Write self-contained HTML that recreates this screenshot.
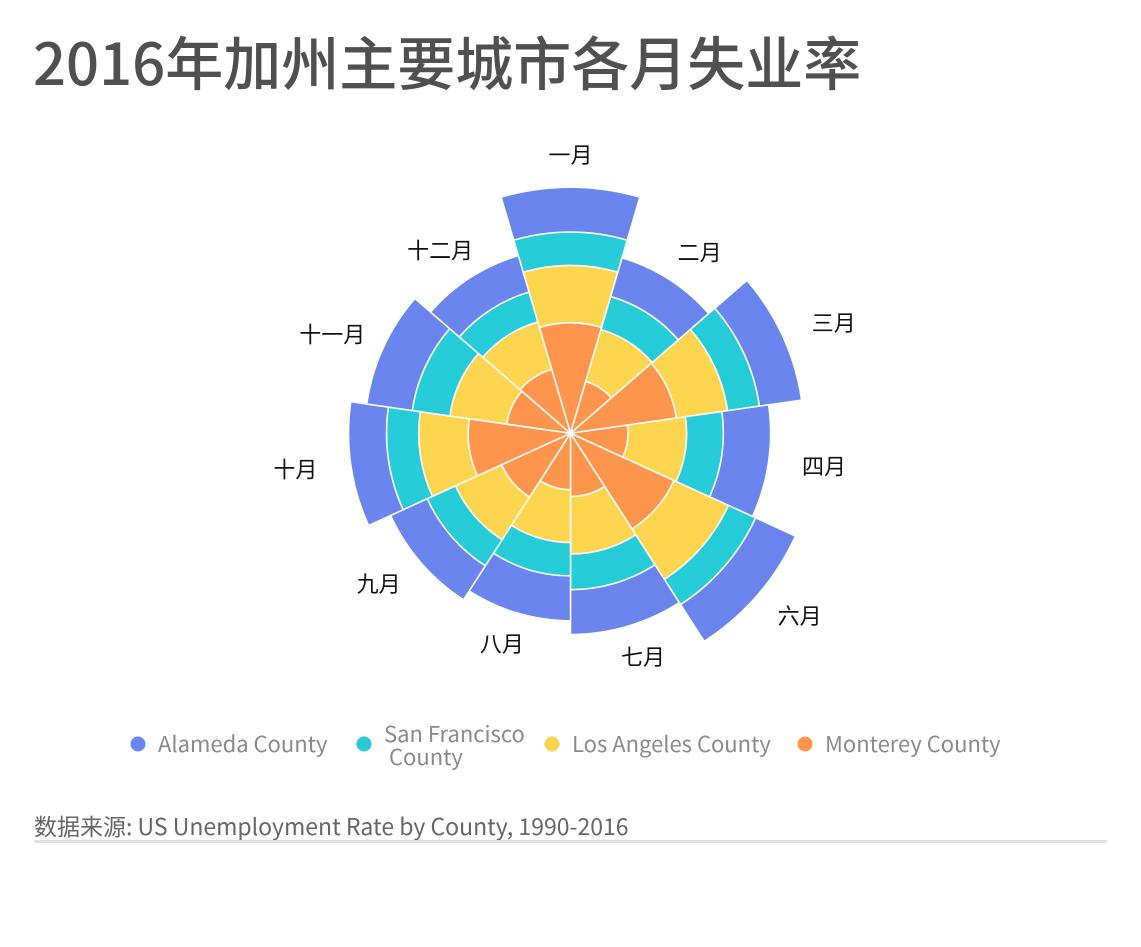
<!DOCTYPE html>
<html><head><meta charset="utf-8">
<style>
body{margin:0;background:#fff;width:1141px;height:947px;overflow:hidden;font-family:"Liberation Sans","Noto Sans CJK SC",sans-serif;}
#title{position:absolute;left:33px;top:20px;font-size:58px;font-weight:500;color:#505050;font-family:"Noto Sans CJK SC","Liberation Sans",sans-serif;white-space:nowrap;line-height:80px;}
#src{position:absolute;left:34px;top:808px;font-size:23px;color:#666;font-family:"Noto Sans CJK SC",sans-serif;white-space:nowrap;}
#rule{position:absolute;left:34px;top:840px;width:1073px;height:3px;background:#e2e2e2;}
</style></head><body>
<div id="title">2016年加州主要城市各月失业率</div>
<svg id="chart" width="1141" height="947" style="position:absolute;left:0;top:0"></svg>
<div id="src">数据来源: US Unemployment Rate by County, 1990-2016</div>
<div id="rule"></div>
<script>
const months = ['一月','二月','三月','四月','六月','七月','八月','九月','十月','十一月','十二月'];
const monterey = [9.6,4.7,9.3,5.0,9.9,5.5,4.9,6.6,8.9,5.6,5.8];
const losAngeles = [5.0,4.7,4.5,5.1,5.2,5.0,4.6,4.4,4.3,5.0,4.3];
const sanFrancisco = [2.9,3.0,2.8,3.2,2.6,3.1,2.9,2.7,2.8,3.3,2.7];
const alameda = [3.9,3.5,3.7,4.1,3.8,3.9,3.9,3.5,3.3,4.0,3.3];
const seriesNames = ['Alameda County','San Francisco\nCounty','Los Angeles County','Monterey County'];

const NS='http://www.w3.org/2000/svg';
const svg=document.getElementById('chart');
const cx=570.5, cy=433.3, k=11.5;
const rScale=v=>v*k;
const step=2*Math.PI/months.length;
const angle=i=>i*step;
function pt(r,a){return [cx+r*Math.sin(a), cy-r*Math.cos(a)];}
function sector(r0,r1,a0,a1){
  const [x1,y1]=pt(r1,a0),[x2,y2]=pt(r1,a1);
  let d=`M${pt(r0,a0).join(',')} L${x1},${y1} A${r1},${r1} 0 0 1 ${x2},${y2}`;
  if(r0>0){const [x3,y3]=pt(r0,a1),[x4,y4]=pt(r0,a0);d+=` L${x3},${y3} A${r0},${r0} 0 0 0 ${x4},${y4}`;}else d+=` L${cx},${cy}`;
  return d+'Z';
}
const stack=[
 {vals:monterey,color:'#fe954c',name:'monterey'},
 {vals:losAngeles,color:'#fdd54e',name:'los-angeles'},
 {vals:sanFrancisco,color:'#26cdd8',name:'san-francisco'},
 {vals:alameda,color:'#6b85ef',name:'alameda'}];
months.forEach((m,i)=>{
  const a0=angle(i)-step/2,a1=angle(i)+step/2;
  let base=0;
  stack.forEach(s=>{
    const top=base+s.vals[i];
    const p=document.createElementNS(NS,'path');
    p.setAttribute('d',sector(rScale(base),rScale(top),a0,a1));
    p.setAttribute('fill',s.color);p.setAttribute('stroke','#fff');p.setAttribute('stroke-width','1.5');
    
    
    svg.appendChild(p);
    base=top;
  });
  const a=angle(i);
  const [lx,ly]=pt(rScale(base)+30,a);
  const t=document.createElementNS(NS,'text');
  t.setAttribute('x',lx+Math.sin(a)*26);t.setAttribute('y',ly+8-Math.cos(a)*2);
  t.setAttribute('text-anchor','middle');t.setAttribute('font-size','22');t.setAttribute('fill','#111');
  t.setAttribute('font-family','"Noto Sans CJK SC",sans-serif');
  t.textContent=m;
  
  
  svg.appendChild(t);
});
const legColors=['#6b85ef','#26cdd8','#fdd54e','#fe954c'];
const legX=[138,364,552,805];
seriesNames.forEach((n,i)=>{
  const g=document.createElementNS(NS,'g');
  
  
  const c=document.createElementNS(NS,'circle');
  c.setAttribute('cx',legX[i]);c.setAttribute('cy',744);c.setAttribute('r',7.5);c.setAttribute('fill',legColors[i]);
  g.appendChild(c);
  const lines=n.split('\n');
  lines.forEach((ln,j)=>{
    const t=document.createElementNS(NS,'text');
    t.setAttribute('x',legX[i]+20+(j?5:0));
    t.setAttribute('y',lines.length>1?742+j*23:752);
    t.setAttribute('font-size','22');t.setAttribute('fill','#8a8a8a');
    t.setAttribute('font-family','"Noto Sans CJK SC",sans-serif');
    t.textContent=ln;g.appendChild(t);
  });
  svg.appendChild(g);
});
</script>
</body></html>
